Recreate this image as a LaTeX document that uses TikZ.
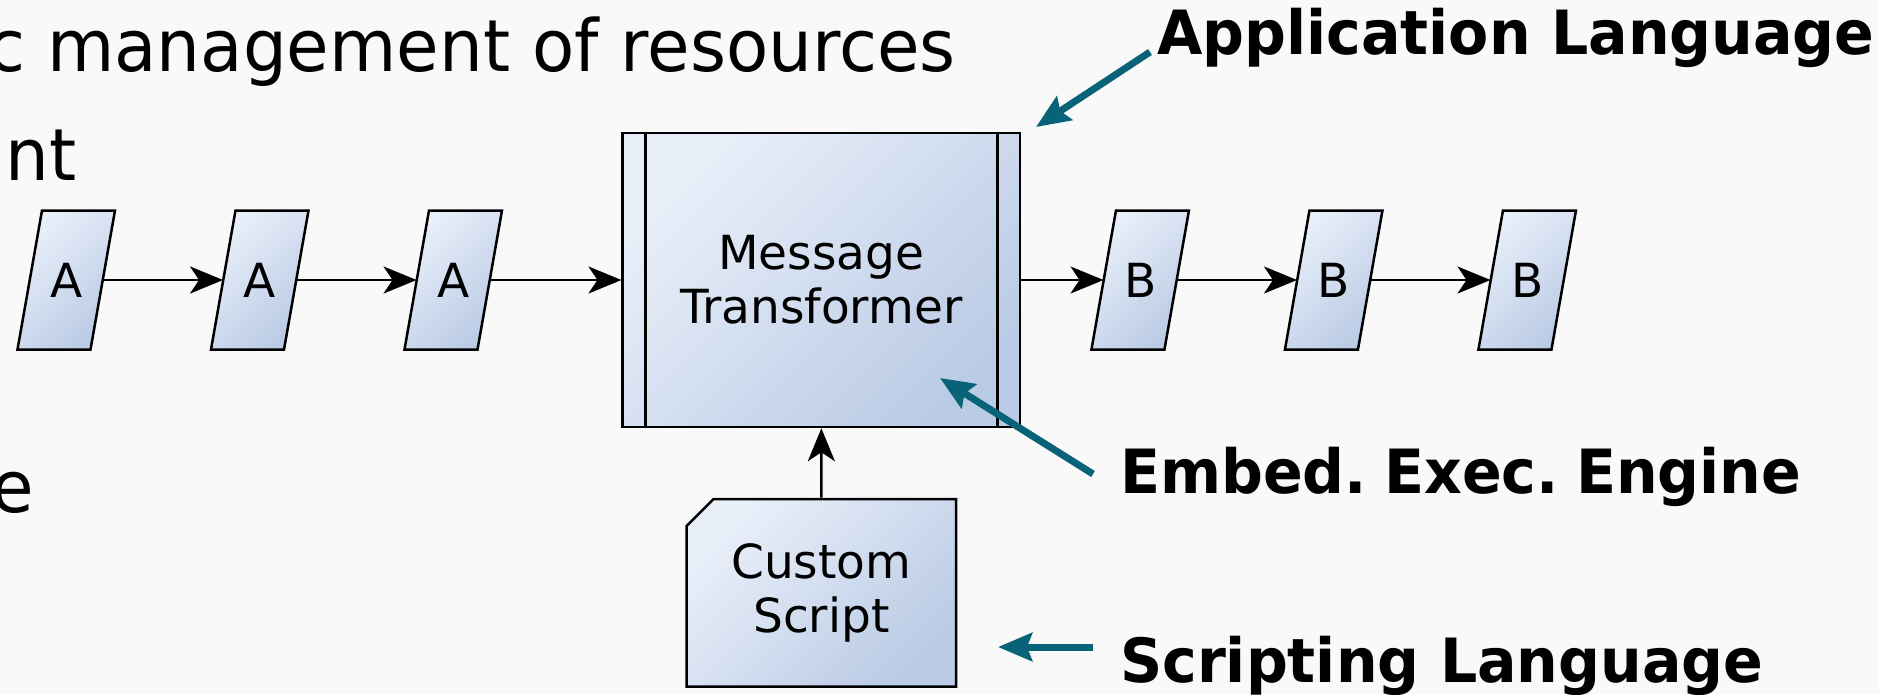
\documentclass[tikz,border=0pt]{standalone}
\usepackage{fontspec}
\setmainfont{DejaVu Sans}
\newfontfamily\slidefont[FakeStretch=0.96]{DejaVu Sans}
\usepackage{tikz}
\usetikzlibrary{arrows.meta, calc, shapes.misc}
\usepackage{xcolor}
\definecolor{slidebg}{RGB}{249,249,249}
\definecolor{boxlight}{RGB}{233,239,249}
\definecolor{boxdark}{RGB}{186,203,229}
\definecolor{pointerteal}{RGB}{8,98,120}

\begin{document}
\begin{tikzpicture}[
            x=1pt, y=-1pt,
            every text node part/.style={
                align=center
            },
            box fill/.style = {
                draw=black, line width=2.5pt,
                top color=boxlight, bottom color=boxdark,
                shading angle=45,
                inner sep=0pt,
                font=\fontsize{47}{54}\selectfont
            },
            msg/.style = {
                rectangle, inner sep=0pt,
                minimum width=73pt, minimum height=139pt,
                font=\fontsize{47}{54}\selectfont
            },
            filter/.style = {
                box fill, rectangle,
                minimum width=397.3pt, minimum height=294pt
            },
            script/.style = {
                box fill, chamfered rectangle,
                chamfered rectangle corners=north west,
                chamfered rectangle xsep=13.5pt, chamfered rectangle ysep=13.5pt,
                minimum width=269.3pt, minimum height=187.7pt
            },
            flow/.style = {
                -{Stealth[length=33pt, width=27pt, inset=9pt]}, line width=2.5pt
            },
            pointer/.style = {
                -{Stealth[length=34pt, width=28pt, inset=5pt]},
                line width=7pt, draw=pointerteal
            },
            slide/.style = {
                anchor=base west, inner sep=0pt,
                font=\slidefont\fontsize{72}{86}\selectfont
            },
            note/.style = {
                anchor=base west, inner sep=0pt,
                font=\slidefont\bfseries\fontsize{61}{73}\selectfont
            }
            ]

            \pgfmathsetmacro{\dx}{193.5}
            \pgfmathsetmacro{\ymid}{280}
            \pgfmathsetmacro{\hw}{36.5}  % half width of a message
            \pgfmathsetmacro{\hh}{69.5}  % half height of a message
            \pgfmathsetmacro{\sl}{12.25} % half of the slant

            \path[clip] (0,0) rectangle (1879,694);
            \fill[slidebg] (0,0) rectangle (1879,694);

            % slide text behind the diagram
            \node[slide] (line1) at (-13,71) {c management of resources};
            \node[slide] (line2) at (5,180) {nt};
            \node[slide] (line3) at (-9,512) {e};

            \node[filter] (mt) at (821.35,\ymid) {Message\\Transformer};
            \draw[line width=2.5pt] ($(mt.north west)+(24,0)$) -- ($(mt.south west)+(24,0)$);
            \draw[line width=2.5pt] ($(mt.north east)+(-24,0)$) -- ($(mt.south east)+(-24,0)$);

            \node[script] (cs) at (821.35,592.85) {Custom\\Script};

            \foreach \name/\lbl/\x in {a1/A/66.25, a2/A/259.75, a3/A/453.25,
                                       b1/B/1140.2, b2/B/1333.7, b3/B/1527.2} {
                \draw[box fill] (\x-\hw+\sl, \ymid-\hh) -- (\x+\hw+\sl, \ymid-\hh)
                    -- (\x+\hw-\sl, \ymid+\hh) -- (\x-\hw-\sl, \ymid+\hh) -- cycle;
                \node[msg] (\name) at (\x,\ymid) {\lbl};
            }

            \foreach \p/\q in {a1/a2, a2/a3, a3/mt, mt/b1, b1/b2, b2/b3} {
                \draw[flow] (\p) -- (\q);
            }
            \draw[flow] (cs) -- (mt);

            % callouts
            \node[note] (applang) at (1157,54) {Application Language};
            \node[note] (engine) at (1120,493) {Embed.\kern-3pt\ Exec.\kern-3pt\ Engine};
            \node[note] (scriptlang) at (1120,682) {Scripting Language};

            \coordinate (app tail) at (1150,52);
            \coordinate (app tip) at (1036,127);
            \coordinate (engine tail) at (1093,474);
            \coordinate (engine tip) at (940,378);
            \coordinate (script tail) at (1093,647);
            \coordinate (script tip) at (998,647);

            \draw[pointer] (app tail) -- (app tip);
            \draw[pointer] (engine tail) -- (engine tip);
            \draw[pointer] (script tail) -- (script tip);

        \end{tikzpicture}
\end{document}
